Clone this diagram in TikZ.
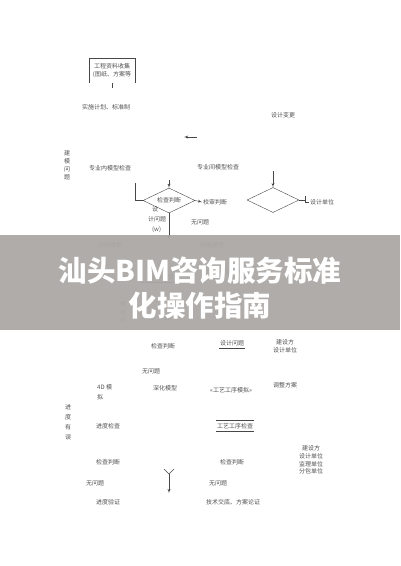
\documentclass[tikz,border=0pt]{standalone}
\usepackage{fontspec}
\newfontfamily\cjkfont{Noto Sans CJK SC}
\newfontfamily\cjkboldfont{Noto Sans CJK SC Black}
\usepackage{xcolor}
\colorlet{TEXTCOLOR}{black!68}
\colorlet{LINECOLOR}{black!72}
\colorlet{FAINTCOLOR}{black!45}
\definecolor{BANNERCOLOR}{RGB}{169,166,163}
\usepackage{tikz}
\usetikzlibrary{shapes,arrows,positioning}
\tikzset{
  text-style/.style = {
    font=\cjkfont\fontsize{6}{7.5}\selectfont,
    text=TEXTCOLOR, inner sep=1pt
  },
  stack-style/.style = {
    text-style, align=center,
    font=\cjkfont\fontsize{6}{#1}\selectfont
  },
  stack-style/.default = 8,
  faint-style/.style = {
    text-style, text=FAINTCOLOR
  },
  decision-style/.style = {
    diamond, draw=LINECOLOR, thin, aspect=2.1,
    minimum width=52pt, minimum height=25pt, inner sep=0pt,
    text-style
  },
  box-style/.style = {
    text-style, align=center,
    minimum width=46pt, minimum height=25pt
  },
  line-style/.style = {
    draw=LINECOLOR, thin
  },
  arrow-style/.style = {
    line-style, -latex'
  },
  title-style/.style = {
    font=\cjkboldfont\fontsize{28.5}{35}\selectfont,
    text=white, align=center, inner sep=0pt
  }
}
\begin{document}
\begin{tikzpicture}[x=1pt,y=-1pt]
  \useasboundingbox[fill=white] (0,0) rectangle (400,566);

  % upper part
  \node[box-style] (info-box) at (112,70.5) {工程资料收集\\(图纸、方案等};
  \draw[line-style] (info-box.south west) |- (info-box.north east) -- (info-box.south east);
  \coordinate (info-tick) at ([yshift=-5pt]info-box.south);
  \draw[line-style] (info-box.south) -- (info-tick);
  \node[text-style] (plan-text) at (106,107) {实施计划、标准制};
  \coordinate (small-tip) at (184,137);
  \coordinate (small-tail) at (197,137);
  \draw[arrow-style] (small-tail) -- (small-tip);
  \node[text-style] (change-text) at (283,115) {设计变更};

  \node[stack-style] (model-issue) at (67,165.5) {建\\模\\问\\题};
  \node[text-style] (inner-check) at (110,168) {专业内模型检查};
  \node[text-style] (cross-check) at (218,167) {专业间模型检查};

  \node[decision-style] (judge-a) at (169,200.5) {检查判断};
  \node[decision-style] (judge-b) at (273,200) {};
  \coordinate (judge-a-in) at (169,180);
  \draw[arrow-style] (judge-a-in) -- (judge-a.north);
  \coordinate (loop-top) at (135,183);
  \draw[line-style] (loop-top) |- (judge-a.west);
  \coordinate (judge-a-out) at (169,239);
  \draw[arrow-style] (judge-a.south) -- (judge-a-out);
  \node[text-style, anchor=west] (review) at (202,202) {校审判断};
  \draw[arrow-style] (judge-a.east) -- (review.west);
  \node[text-style, align=left, anchor=north west,
        font=\cjkfont\fontsize{6}{10}\selectfont] (design-issue) at (147,205)
        {\hspace{4pt}设\\计问题\\\hspace{4pt}(w)};
  \node[text-style] (no-issue-a) at (200,222) {无问题};

  \coordinate (judge-b-in) at (273,171);
  \draw[arrow-style] (judge-b-in) -- (judge-b.north);
  \node[text-style, anchor=west] (unit-a) at (309,202) {设计单位};
  \coordinate (bracket-top) at (305,196);
  \draw[line-style] (judge-b.east) -- (bracket-top |- judge-b.east);
  \draw[line-style] (bracket-top) |- (unit-a.west);

  % texts under the banner
  \node[faint-style] (sim-model) at (110,245) {对照模型};
  \node[faint-style] (mep-model) at (212,245) {机电模型};
  \node[faint-style] (combine-check) at (162,277) {综合检查};
  \draw[line-style, draw=FAINTCOLOR] (combine-check.south west) ++(-9,1) -- ++(37,0);
  \node[faint-style] (clash-check) at (238,272) {碰撞检查};
  \node[stack-style, text=FAINTCOLOR] (merge-issue) at (123,312.5) {整\\合\\问};
  \node[faint-style] (yes-no) at (163,319) {[是\quad [否\quad ]};

  % lower part
  \node[text-style] (judge-b-text) at (163,346) {检查判断};
  \node[text-style] (design-issue-b) at (232,343) {设计问题};
  \draw[line-style] ([yshift=-1pt]design-issue-b.south west) -- ([yshift=-1pt]design-issue-b.south east);
  \node[stack-style] (owner-a) at (285,346) {建设方\\设计单位};
  \node[text-style] (no-issue-b) at (151,371) {无问题};
  \node[text-style, align=left, anchor=north west,
        font=\cjkfont\fontsize{6}{10}\selectfont] (sim-4d) at (96,383) {4D 模\\拟};
  \node[text-style] (deep-model) at (165,388) {深化模型};
  \node[text-style] (process-sim) at (231,390) {«工艺工序模拟»};
  \node[text-style] (adjust) at (285,385) {调整方案};

  \node[stack-style=10] (schedule-issue) at (68,422) {进\\度\\有\\误};
  \node[text-style] (progress-check) at (108,426) {进度检查};
  \node[text-style] (process-check) at (235,426) {工艺工序检查};
  \draw[line-style] ([yshift=2pt]process-check.north west) -- ([yshift=2pt]process-check.north east);
  \draw[line-style] ([yshift=-1pt]process-check.south west) -- ([yshift=-1pt]process-check.south east);
  \node[text-style] (judge-c-text) at (108,462) {检查判断};
  \node[text-style] (judge-d-text) at (232,462) {检查判断};
  \node[stack-style=7.8] (owner-b) at (311,460) {建设方\\设计单位\\监理单位\\分包单位};
  \node[text-style] (no-issue-c) at (95,483) {无问题};
  \node[text-style] (no-issue-d) at (218,483) {无问题};
  \node[text-style] (progress-verify) at (108,502) {进度验证};
  \node[text-style] (tech-brief) at (233,502) {技术交底、方案论证};

  \coordinate (fork) at (169,474);
  \coordinate (fork-l) at (164,469);
  \coordinate (fork-r) at (174,469);
  \coordinate (fork-end) at (169,493);
  \draw[line-style] (fork-l) -- (fork) -- (fork-r);
  \draw[arrow-style] (fork) -- (fork-end);

  % banner
  \fill[BANNERCOLOR, fill opacity=0.92] (0,235) rectangle (400,330);
  \node[title-style] (title) at (200,288) {汕头BIM咨询服务标准\\化操作指南};
\end{tikzpicture}
\end{document}
